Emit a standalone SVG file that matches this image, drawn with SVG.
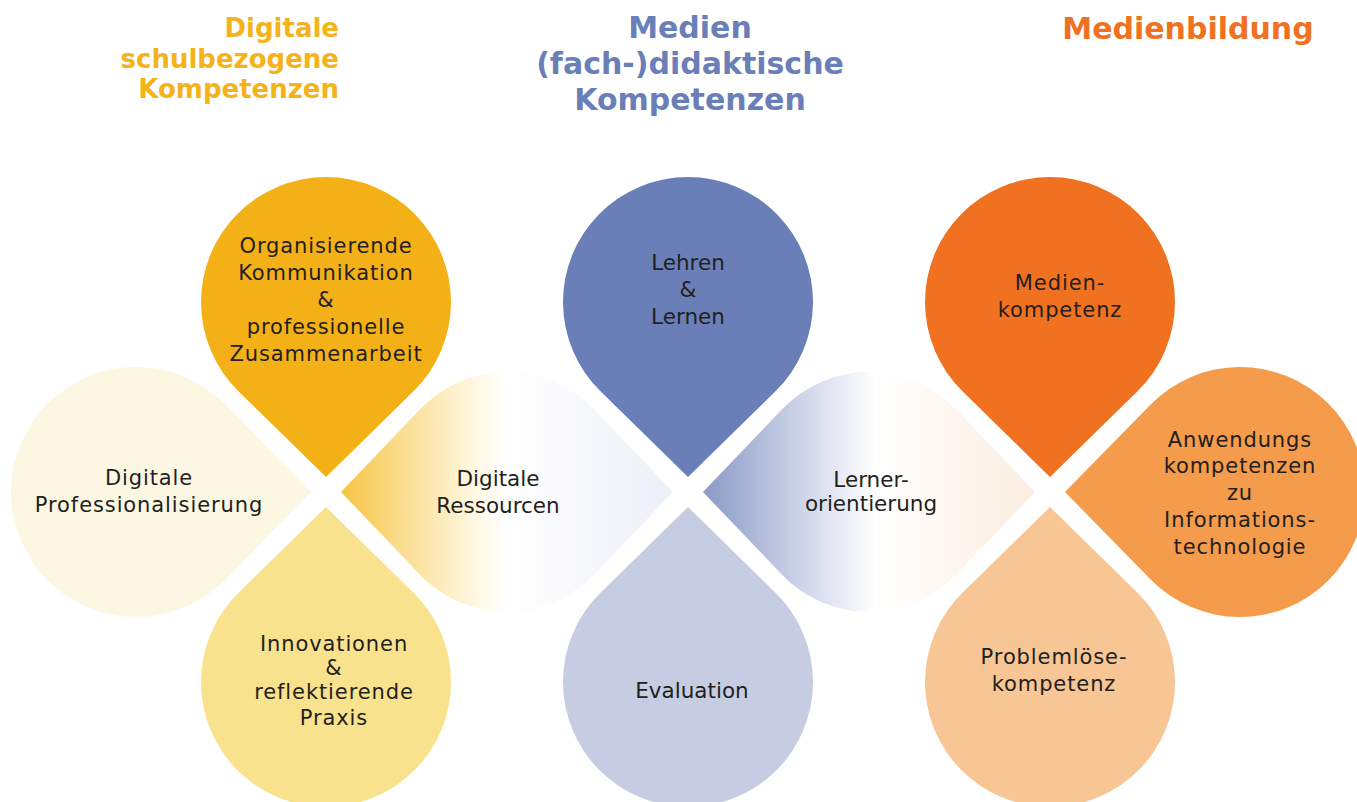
<svg xmlns="http://www.w3.org/2000/svg" width="1357" height="802" viewBox="0 0 1357 802">
<style>
.t{font-family:"DejaVu Sans","Liberation Sans",sans-serif;fill:#231F20;text-anchor:middle}
.s{font-size:21px;letter-spacing:0.9px}
.m{font-size:21.5px}
.h{font-family:"DejaVu Sans","Liberation Sans",sans-serif;font-weight:bold}
</style>
<defs>
<path id="petal" d="M0,0 L87.5,-85.7 A125 125 0 1 0 -87.5,-85.7 Z"/>
<path id="lens" d="M-166,0 L-86.7,-82.9 A120 120 0 0 1 86.7,-82.9 L166,0 L86.7,82.9 A120 120 0 0 1 -86.7,82.9 Z"/>
<linearGradient id="g1" x1="0" y1="0" x2="1" y2="0">
<stop offset="0" stop-color="#F6C441"/>
<stop offset="0.2" stop-color="#FADF96"/>
<stop offset="0.42" stop-color="#FFF9E8"/>
<stop offset="0.5" stop-color="#FFFFFF"/>
<stop offset="1" stop-color="#EDEFF7"/>
</linearGradient>
<linearGradient id="g2" x1="0" y1="0" x2="1" y2="0">
<stop offset="0" stop-color="#8A9AC6"/>
<stop offset="0.25" stop-color="#C3CBE3"/>
<stop offset="0.44" stop-color="#EEF0F8"/>
<stop offset="0.52" stop-color="#FFFFFF"/>
<stop offset="1" stop-color="#FCEDE0"/>
</linearGradient>
</defs>
<rect width="1357" height="802" fill="#FFFFFF"/>

<g id="title-left" class="h" fill="#F4B21B" font-size="26" text-anchor="end">
<text x="339" y="37">Digitale</text>
<text x="339" y="68">schulbezogene</text>
<text x="339" y="98">Kompetenzen</text>
</g>
<g id="title-middle" class="h" fill="#6A7FB7" font-size="30" text-anchor="middle">
<text x="690" y="38">Medien</text>
<text x="690" y="74">(fach-)didaktische</text>
<text x="690" y="110">Kompetenzen</text>
</g>
<g id="title-right" class="h" fill="#F07220" font-size="30" text-anchor="middle">
<text x="1188" y="39">Medienbildung</text>
</g>

<g id="organisierende">
<use href="#petal" transform="translate(326,477)" fill="#F4B117"/>
<text class="t s" x="326" y="253">Organisierende</text>
<text class="t s" x="326" y="280">Kommunikation</text>
<text class="t s" x="326" y="307">&amp;</text>
<text class="t s" x="326" y="334">professionelle</text>
<text class="t s" x="326" y="361">Zusammenarbeit</text>
</g>
<g id="professionalisierung">
<use href="#petal" transform="translate(311,492) rotate(-90)" fill="#FCF7E2"/>
<text class="t s" x="149" y="485">Digitale</text>
<text class="t s" x="149" y="512">Professionalisierung</text>
</g>
<g id="innovationen">
<use href="#petal" transform="translate(326,507) rotate(180)" fill="#F9E28E"/>
<text class="t s" x="334" y="651">Innovationen</text>
<text class="t s" x="334" y="675">&amp;</text>
<text class="t s" x="334" y="699">reflektierende</text>
<text class="t s" x="334" y="725">Praxis</text>
</g>
<g id="ressourcen">
<use href="#lens" transform="translate(507,492)" fill="url(#g1)"/>
<text class="t m" x="498" y="486">Digitale</text>
<text class="t m" x="498" y="513">Ressourcen</text>
</g>
<g id="lehren">
<use href="#petal" transform="translate(688,477)" fill="#6A7FB7"/>
<text class="t m" x="688" y="270">Lehren</text>
<text class="t m" x="688" y="297">&amp;</text>
<text class="t m" x="688" y="324">Lernen</text>
</g>
<g id="evaluation">
<use href="#petal" transform="translate(688,507) rotate(180)" fill="#C6CCE2"/>
<text class="t m" x="692" y="698">Evaluation</text>
</g>
<g id="lernerorientierung">
<use href="#lens" transform="translate(869,492)" fill="url(#g2)"/>
<text class="t m" x="871" y="487">Lerner-</text>
<text class="t m" x="871" y="511">orientierung</text>
</g>
<g id="medienkompetenz">
<use href="#petal" transform="translate(1050,477)" fill="#F07220"/>
<text class="t s" x="1060" y="290">Medien-</text>
<text class="t s" x="1060" y="317">kompetenz</text>
</g>
<g id="anwendungskompetenzen">
<use href="#petal" transform="translate(1065,492) rotate(90)" fill="#F49B4C"/>
<text class="t s" x="1240" y="447">Anwendungs</text>
<text class="t s" x="1240" y="473">kompetenzen</text>
<text class="t s" x="1240" y="500">zu</text>
<text class="t s" x="1240" y="527">Informations-</text>
<text class="t s" x="1240" y="554">technologie</text>
</g>
<g id="problemloesekompetenz">
<use href="#petal" transform="translate(1050,507) rotate(180)" fill="#F8C594"/>
<text class="t s" x="1054" y="664">Problemlöse-</text>
<text class="t s" x="1054" y="691">kompetenz</text>
</g>
<g id="connectors"/>
</svg>
